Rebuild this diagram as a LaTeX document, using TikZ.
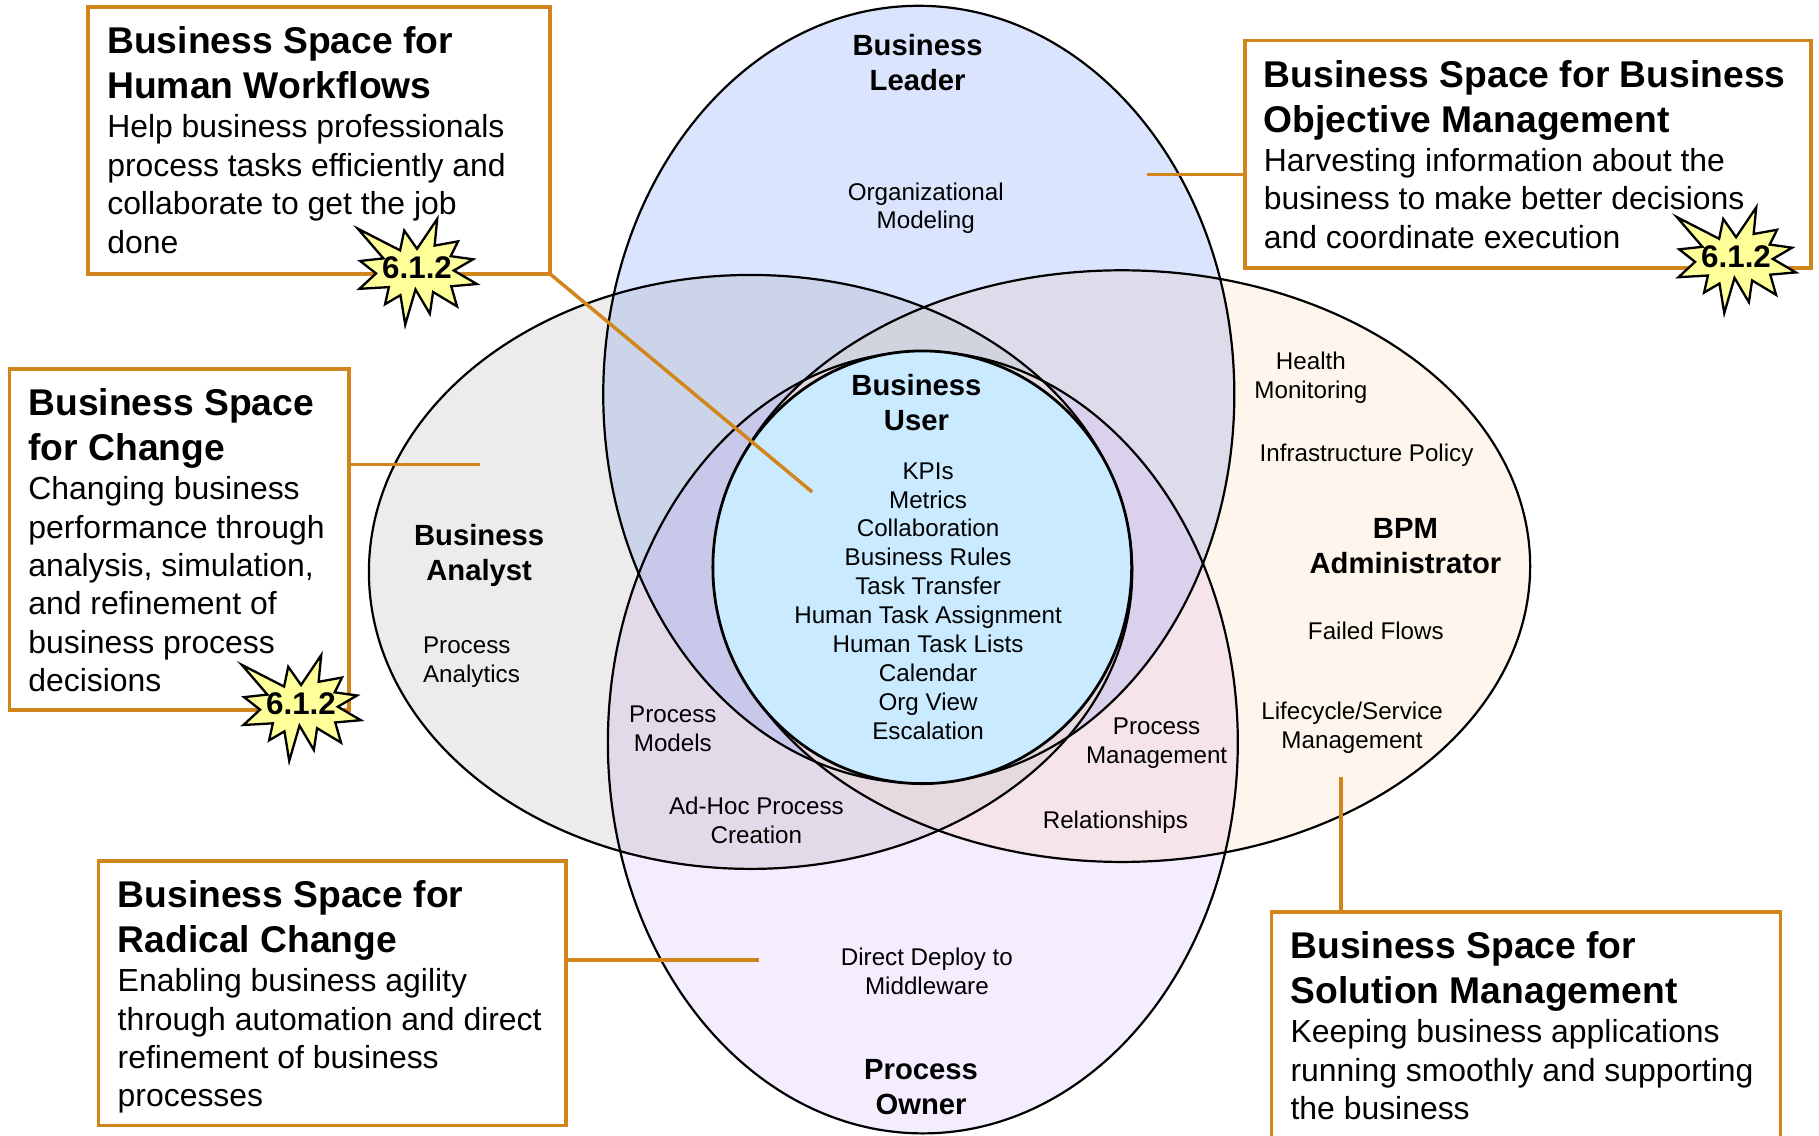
\documentclass[tikz,border=0pt]{standalone}
\usepackage{fontspec}
\setmainfont{Liberation Sans}
\usetikzlibrary{shapes.geometric}
\definecolor{boxorange}{HTML}{D2851A}
\definecolor{topfill}{HTML}{DAE4FD}
\definecolor{leftfill}{HTML}{ECECEC}
\definecolor{rightfill}{HTML}{FEF6ED}
\definecolor{bottomfill}{HTML}{F4EDFE}
\definecolor{corefill}{HTML}{CAEBFF}
\definecolor{burstfill}{HTML}{FFFF99}
\definecolor{ovTL}{HTML}{CBD4E9}
\definecolor{ovTR}{HTML}{DEDCEA}
\definecolor{ovLB}{HTML}{E2DAE9}
\definecolor{ovRB}{HTML}{F5E5EB}
\definecolor{ovTLB}{HTML}{C8C8EA}
\definecolor{ovTRB}{HTML}{DAD2EC}
\definecolor{ovTLR}{HTML}{D1D3DF}
\definecolor{ovBLR}{HTML}{E6DAE0}
\tikzset{
  venn/.style={shape=ellipse,draw=black,line width=1.9pt,inner sep=0pt,outer sep=0pt},
  spacebox/.style={shape=rectangle,draw=boxorange,line width=3pt,fill=white,inner xsep=16.5pt,inner ysep=0pt,outer sep=0pt,anchor=north west},
  leader/.style={draw=boxorange,line width=3pt},
  burstline/.style={draw=black,fill=burstfill,line width=2pt,miter limit=10},
  bursttext/.style={font=\bfseries\fontsize{27}{30}\selectfont,inner sep=0pt},
  rolelabel/.style={font=\bfseries\fontsize{25.2}{30}\selectfont,align=center,inner sep=0pt},
  itemlabel/.style={font=\fontsize{20.85}{24.9}\selectfont,align=center,inner sep=0pt},
}
\newcommand{\boxtext}[4]{%
  \begin{minipage}[t][#2pt][t]{\dimexpr#1pt-33pt\relax}%
  \setlength{\parindent}{0pt}\raggedright
  {\fontsize{32.1}{38.8}\selectfont\bfseries\rule{0pt}{40.3pt}#3\par}%
  \vspace{0.6pt}%
  {\fontsize{27.5}{33.1}\selectfont #4\par}%
  \end{minipage}}
\newcommand{\burstat}[2]{%
  \draw[burstline,shift={(#2)},scale=0.96] (-53.2,-35.3)--(-15.2,-15.8)--(-11.5,-33.6)--(0,-17.2)--(18.1,-44)--(15.8,-20.1)--(36.8,-23.9)--(30.2,-10.6)--(50.3,-7.8)--(33,2.3)--(53.7,14.4)--(30.7,16.4)--(35.9,34.5)--(14.4,21.6)--(11.5,41.1)--(-1.4,19.3)--(-10.6,50.9)--(-14.9,24.4)--(-28.7,32.5)--(-25.3,17.2)--(-51.7,18.7)--(-36.8,4.9)--(-51.1,-6.3)--(-30.2,-8.6)--cycle;
  \node[bursttext] (#1) at (#2) {6.1.2};}
\newcommand{\ptop}{(792,340) ellipse [x radius=272,y radius=335]}
\newcommand{\pleft}{(647,493) ellipse [x radius=329,y radius=256]}
\newcommand{\pright}{(967,488) ellipse [x radius=352,y radius=255]}
\newcommand{\pbot}{(795.5,640) ellipse [x radius=271.5,y radius=337]}
\newcommand{\paintall}[1]{\fill[#1] (0,0) rectangle (1568,979);}
\begin{document}
\begin{tikzpicture}[x=1pt,y=-1pt]
\useasboundingbox (0,0) rectangle (1568,979);
\clip (0,0) rectangle (1568,979);
\fill[white] (0,0) rectangle (1568,979);
% Venn region colours
\fill[topfill] \ptop;
\fill[leftfill] \pleft;
\fill[rightfill] \pright;
\fill[bottomfill] \pbot;
\begin{scope}\clip \ptop; \clip \pleft; \paintall{ovTL}\end{scope}
\begin{scope}\clip \ptop; \clip \pright; \paintall{ovTR}\end{scope}
\begin{scope}\clip \pleft; \clip \pbot; \paintall{ovLB}\end{scope}
\begin{scope}\clip \pright; \clip \pbot; \paintall{ovRB}\end{scope}
\begin{scope}\clip \ptop; \clip \pleft; \clip \pbot; \paintall{ovTLB}\end{scope}
\begin{scope}\clip \ptop; \clip \pright; \clip \pbot; \paintall{ovTRB}\end{scope}
\begin{scope}\clip \ptop; \clip \pleft; \clip \pright; \paintall{ovTLR}\end{scope}
\begin{scope}\clip \pbot; \clip \pleft; \clip \pright; \paintall{ovBLR}\end{scope}
% Venn outlines
\node[venn,minimum width=544pt,minimum height=670pt] (leader) at (792,340) {};
\node[venn,minimum width=658pt,minimum height=512pt] (analyst) at (647,493) {};
\node[venn,minimum width=704pt,minimum height=510pt] (admin) at (967,488) {};
\node[venn,minimum width=543pt,minimum height=674pt] (owner) at (795.5,640) {};
\node[venn,line width=2.4pt,fill=corefill,minimum width=361pt,minimum height=373pt] (user) at (795,489) {};
% Boxes
\node[spacebox] (boxhuman) at (76,6) {\boxtext{398}{230}{Business Space for\\Human Workflows}{Help business professionals\\process tasks efficiently and\\collaborate to get the job\\done}};
\node[spacebox] (boxobjective) at (1073,35) {\boxtext{488}{196}{Business Space for Business\\Objective Management}{Harvesting information about the\\business to make better decisions\\and coordinate execution}};
\node[spacebox] (boxchange) at (8,318) {\boxtext{293}{294}{Business Space\\for Change}{Changing business\\performance through\\analysis, simulation,\\and refinement of\\business process\\decisions}};
\node[spacebox] (boxradical) at (85,742) {\boxtext{403}{228}{Business Space for\\Radical Change}{Enabling business agility\\through automation and direct\\refinement of business\\processes}};
\node[spacebox] (boxsolution) at (1096,786) {\boxtext{439}{230}{Business Space for\\Solution Management}{Keeping business applications\\running smoothly and supporting\\the business}};
% Leaders
\coordinate (humanend) at (700,424);
\coordinate (objectiveend) at (989,150.5);
\coordinate (changeend) at (414,400.5);
\coordinate (radicalend) at (654,827.5);
\coordinate (solutionend) at (1156,670);
\draw[leader] (boxhuman.south east) -- (humanend);
\draw[leader] (objectiveend) -- (objectiveend -| boxobjective.west);
\draw[leader] (changeend -| boxchange.east) -- (changeend);
\draw[leader] (radicalend -| boxradical.east) -- (radicalend);
\draw[leader] (solutionend) -- (solutionend |- boxsolution.north);
% Role labels
\node[rolelabel] (lblleader) at (791,54) {Business\\Leader};
\node[rolelabel] (lbluser) at (790,347) {Business\\User};
\node[rolelabel] (lbladmin) at (1211.5,471) {BPM\\Administrator};
\node[rolelabel] (lblanalyst) at (413,479) {Business\\Analyst};
\node[rolelabel] (lblowner) at (794,937) {Process\\Owner};
% Items
\node[itemlabel] (itmorg) at (798,179.5) {Organizational\\Modeling};
\node[itemlabel] (itmuser) at (800,518) {KPIs\\Metrics\\Collaboration\\Business Rules\\Task Transfer\\Human Task Assignment\\Human Task Lists\\Calendar\\Org View\\Escalation};
\node[itemlabel] (itmhealth) at (1130,326) {Health\\Monitoring};
\node[itemlabel] (itminfra) at (1178,392.5) {Infrastructure Policy};
\node[itemlabel] (itmfailed) at (1186,544) {Failed Flows};
\node[itemlabel] (itmlife) at (1165.5,627.5) {Lifecycle/Service\\Management};
\node[itemlabel] (itmmgmt) at (997,640.5) {Process\\Management};
\node[itemlabel] (itmrel) at (961.5,709) {Relationships};
\node[itemlabel] (itmmodels) at (580,628) {Process\\Models};
\node[itemlabel] (itmadhoc) at (652,707) {Ad-Hoc Process\\Creation};
\node[itemlabel] (itmdeploy) at (799,837) {Direct Deploy to\\Middleware};
\node[itemlabel,align=left,anchor=west] (itmanalytics) at (364.5,571) {Process\\Analytics};
% Bursts
\burstat{bursthuman}{359.5,231}
\burstat{burstobjective}{1496.5,221}
\burstat{burstchange}{259.5,607}
\end{tikzpicture}
\end{document}
